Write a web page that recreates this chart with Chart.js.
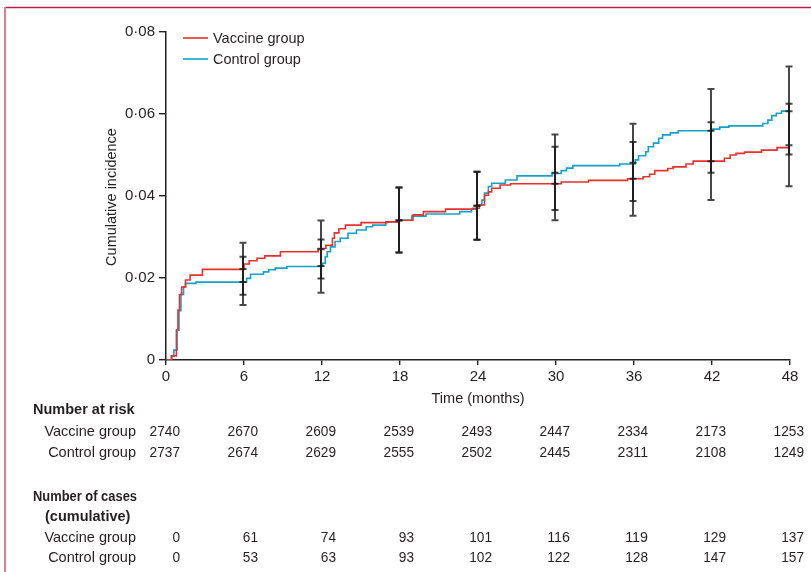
<!DOCTYPE html>
<html>
<head>
<meta charset="utf-8">
<script src="https://cdn.jsdelivr.net/npm/chart.js@4.4.0/dist/chart.umd.min.js"></script>
<style>
html,body{margin:0;padding:0;background:#fff;}
#wrap{position:relative;width:811px;height:572px;}
</style>
</head>
<body>
<div id="wrap"><canvas id="c" width="811" height="572"></canvas></div>
<script>
// ---- data ----
const seriesNames = ['Vaccine group', 'Control group'];
const tickMonths = [0, 6, 12, 18, 24, 30, 36, 42, 48];
const yTicks = [0, 0.02, 0.04, 0.06, 0.08];

const vaccineTimes = [0, 0.45, 0.8, 0.92, 1.04, 1.2, 1.5, 1.85, 2.8, 6.0, 6.4, 7.0, 7.6, 8.8, 11.7, 12.3, 12.8, 12.95, 13.3, 13.8, 15.0, 17.0, 17.9, 19.0, 19.8, 21.5, 23.6, 24.1, 24.5, 24.8, 25.05, 25.7, 26.5, 30.4, 32.5, 35.5, 36.7, 37.2, 37.6, 38.6, 39.0, 40.0, 40.55, 42.95, 43.4, 43.85, 44.5, 45.8, 47.0, 48.0];
const vaccineValues = [0, 0.001, 0.0073, 0.0122, 0.0159, 0.0178, 0.0195, 0.0207, 0.0221, 0.0234, 0.0242, 0.0248, 0.0254, 0.0264, 0.0272, 0.0280, 0.0297, 0.0310, 0.0320, 0.0329, 0.0335, 0.0337, 0.0341, 0.0354, 0.0362, 0.0368, 0.0370, 0.0378, 0.0402, 0.0410, 0.0419, 0.0427, 0.0430, 0.0434, 0.0438, 0.0442, 0.0447, 0.0453, 0.0462, 0.0467, 0.0471, 0.0478, 0.0485, 0.0492, 0.0500, 0.0504, 0.0507, 0.0512, 0.0518, 0.0518];

const controlTimes = [0, 0.4, 0.6, 0.85, 1.0, 1.15, 1.35, 1.5, 2.3, 6.2, 6.5, 7.5, 7.9, 8.4, 9.3, 12.05, 12.25, 12.4, 12.65, 13.0, 13.4, 14.0, 14.65, 15.4, 15.9, 16.9, 17.9, 18.9, 20.0, 22.6, 23.5, 23.9, 24.3, 24.5, 24.8, 25.05, 26.1, 27.0, 29.7, 30.4, 30.8, 31.3, 34.9, 36.1, 36.35, 36.9, 37.1, 37.5, 37.9, 38.2, 38.8, 39.4, 42.0, 42.6, 43.3, 45.9, 46.3, 46.6, 46.95, 47.35, 48.0];
const controlValues = [0, 0.001, 0.0024, 0.0073, 0.012, 0.016, 0.0178, 0.0187, 0.0190, 0.0199, 0.0209, 0.0215, 0.0220, 0.0224, 0.0228, 0.0236, 0.0252, 0.0264, 0.0276, 0.0289, 0.0297, 0.0309, 0.0317, 0.0325, 0.0329, 0.0337, 0.0341, 0.0351, 0.0356, 0.0362, 0.0368, 0.0378, 0.0390, 0.0407, 0.0423, 0.0431, 0.0439, 0.0449, 0.0455, 0.0462, 0.0468, 0.0474, 0.0478, 0.0488, 0.0498, 0.0508, 0.0520, 0.0529, 0.0541, 0.0549, 0.0554, 0.0559, 0.0563, 0.0568, 0.0571, 0.0577, 0.0585, 0.0596, 0.0602, 0.0607, 0.0607];

const ciMonths = [6, 12, 18, 24, 30, 36, 42, 48];
const vaccineEst  = [0.0222, 0.0270, 0.0341, 0.0376, 0.0430, 0.0442, 0.0485, 0.0524];
const vaccineLow  = [0.0159, 0.0199, 0.0262, 0.0293, 0.0341, 0.0352, 0.0390, 0.0424];
const vaccineHigh = [0.0286, 0.0340, 0.0421, 0.0459, 0.0520, 0.0532, 0.0580, 0.0625];
const controlEst  = [0.0190, 0.0229, 0.0340, 0.0376, 0.0457, 0.0481, 0.0559, 0.0607];
const controlLow  = [0.0134, 0.0164, 0.0262, 0.0293, 0.0366, 0.0388, 0.0457, 0.0501];
const controlHigh = [0.0252, 0.0294, 0.0421, 0.0459, 0.0550, 0.0576, 0.0661, 0.0716];

const riskVaccine = [2740, 2670, 2609, 2539, 2493, 2447, 2334, 2173, 1253];
const riskControl = [2737, 2674, 2629, 2555, 2502, 2445, 2311, 2108, 1249];
const casesVaccine = [0, 61, 74, 93, 101, 116, 119, 129, 137];
const casesControl = [0, 53, 63, 93, 102, 122, 128, 147, 157];

// ---- style ----
const RED = '#e8302c';
const BLUE = '#14a1c9';
const INK = '#231f20';
const FONT = '"Liberation Sans", Arial, sans-serif';

function fmtTick(v) {
  if (Math.abs(v) < 1e-9) return '0';
  return v.toFixed(2).replace('.', '\u00b7');
}

const annot = {
  id: 'annot',
  afterDatasetsDraw(chart) {
    const ctx = chart.ctx, xs = chart.scales.x, ys = chart.scales.y;
    ctx.save();
    ctx.strokeStyle = 'rgba(20,20,20,0.78)';
    ctx.lineWidth = 2;
    const groups = [[vaccineEst, vaccineLow, vaccineHigh], [controlEst, controlLow, controlHigh]];
    groups.forEach(g => {
      ciMonths.forEach((m, i) => {
        const x = Math.round(xs.getPixelForValue(m)) - 1;
        const yc = ys.getPixelForValue(g[0][i]);
        const yl = ys.getPixelForValue(g[1][i]);
        const yh = ys.getPixelForValue(g[2][i]);
        ctx.beginPath();
        ctx.moveTo(x, yl); ctx.lineTo(x, yh);
        ctx.moveTo(x - 3.5, yl); ctx.lineTo(x + 3.5, yl);
        ctx.moveTo(x - 3.5, yh); ctx.lineTo(x + 3.5, yh);
        ctx.moveTo(x - 3.5, yc); ctx.lineTo(x + 3.5, yc);
        ctx.stroke();
      });
    });
    ctx.restore();
  },
  afterDraw(chart) {
    const ctx = chart.ctx, xs = chart.scales.x;
    const area = chart.chartArea;
    ctx.save();
    // frame
    ctx.lineWidth = 1.5;
    ctx.strokeStyle = '#b3204b';
    ctx.beginPath(); ctx.moveTo(5, 7.5); ctx.lineTo(811, 7.5); ctx.stroke();
    ctx.lineWidth = 2;
    ctx.strokeStyle = '#e27b98';
    ctx.beginPath(); ctx.moveTo(5, 7); ctx.lineTo(5, 572); ctx.stroke();

    // legend
    const cols = [RED, BLUE];
    ctx.font = '14.5px ' + FONT;
    ctx.textBaseline = 'middle';
    ctx.textAlign = 'left';
    seriesNames.forEach((n, i) => {
      const y = 38 + i * 21;
      ctx.strokeStyle = cols[i];
      ctx.lineWidth = 1.6;
      ctx.beginPath(); ctx.moveTo(183, y); ctx.lineTo(208, y); ctx.stroke();
      ctx.fillStyle = INK;
      ctx.fillText(n, 213, y + 0.5);
    });

    // axis titles
    ctx.fillStyle = INK;
    ctx.textAlign = 'center';
    ctx.fillText('Time (months)', (area.left + area.right) / 2, 399);
    ctx.save();
    ctx.translate(112, (area.top + area.bottom) / 2 + 1);
    ctx.rotate(-Math.PI / 2);
    ctx.fillText('Cumulative incidence', 0, 0);
    ctx.restore();

    // table
    const labelRight = 136;
    const rows = [
      {label: 'Number at risk', bold: true, y: 410, left: 33, maxW: 103},
      {label: 'Vaccine group', y: 432, vals: riskVaccine},
      {label: 'Control group', y: 453, vals: riskControl},
      {label: 'Number of cases', bold: true, y: 497, left: 33, maxW: 104},
      {label: '(cumulative)', bold: true, y: 517, left: 45, maxW: 91},
      {label: 'Vaccine group', y: 538, vals: casesVaccine},
      {label: 'Control group', y: 558, vals: casesControl}
    ];
    rows.forEach(r => {
      ctx.font = (r.bold ? 'bold ' : '') + '14.5px ' + FONT;
      ctx.fillStyle = INK;
      if (r.bold) {
        ctx.textAlign = 'left';
        ctx.fillText(r.label, r.left, r.y, r.maxW);
      } else {
        ctx.textAlign = 'right';
        ctx.fillText(r.label, labelRight, r.y);
      }
      if (r.vals) {
        ctx.font = '14.5px ' + FONT;
        ctx.textAlign = 'right';
        r.vals.forEach((v, i) => {
          const s = String(v);
          const x = xs.getPixelForValue(tickMonths[i]) + 14;
          ctx.fillText(s, x, r.y, s.length * 7.6);
        });
      }
    });
    ctx.restore();
  }
};

new Chart(document.getElementById('c'), {
  type: 'line',
  data: {
    datasets: [
      {
        label: seriesNames[0],
        data: vaccineTimes.map((t, i) => ({x: t, y: vaccineValues[i]})),
        borderColor: RED, borderWidth: 1.6, pointRadius: 0, stepped: 'before', fill: false
      },
      {
        label: seriesNames[1],
        data: controlTimes.map((t, i) => ({x: t, y: controlValues[i]})),
        borderColor: BLUE, borderWidth: 1.6, pointRadius: 0, stepped: 'before', fill: false
      }
    ]
  },
  options: {
    responsive: false,
    animation: false,
    devicePixelRatio: 1,
    layout: {padding: {left: 0, right: 21, top: 32, bottom: 0}},
    plugins: {legend: {display: false}, tooltip: {enabled: false}},
    scales: {
      x: {
        type: 'linear', min: 0, max: 48,
        afterBuildTicks: s => { s.ticks = tickMonths.map(v => ({value: v})); },
        afterFit: s => { s.height = 212; },
        ticks: {color: INK, font: {family: FONT, size: 15}, padding: 3, maxRotation: 0, autoSkip: false},
        grid: {display: true, drawOnChartArea: false, drawTicks: true, tickLength: 5, color: INK, lineWidth: 1.4},
        border: {display: true, color: INK, width: 1.5}
      },
      y: {
        min: 0, max: 0.08,
        afterBuildTicks: s => { s.ticks = yTicks.map(v => ({value: v})); },
        afterFit: s => { s.width = 166; },
        ticks: {color: INK, font: {family: FONT, size: 15}, padding: 4, callback: v => fmtTick(v)},
        grid: {display: true, drawOnChartArea: false, drawTicks: true, tickLength: 7, color: INK, lineWidth: 1.4},
        border: {display: true, color: INK, width: 1.5}
      }
    }
  },
  plugins: [annot]
});
</script>
</body>
</html>
